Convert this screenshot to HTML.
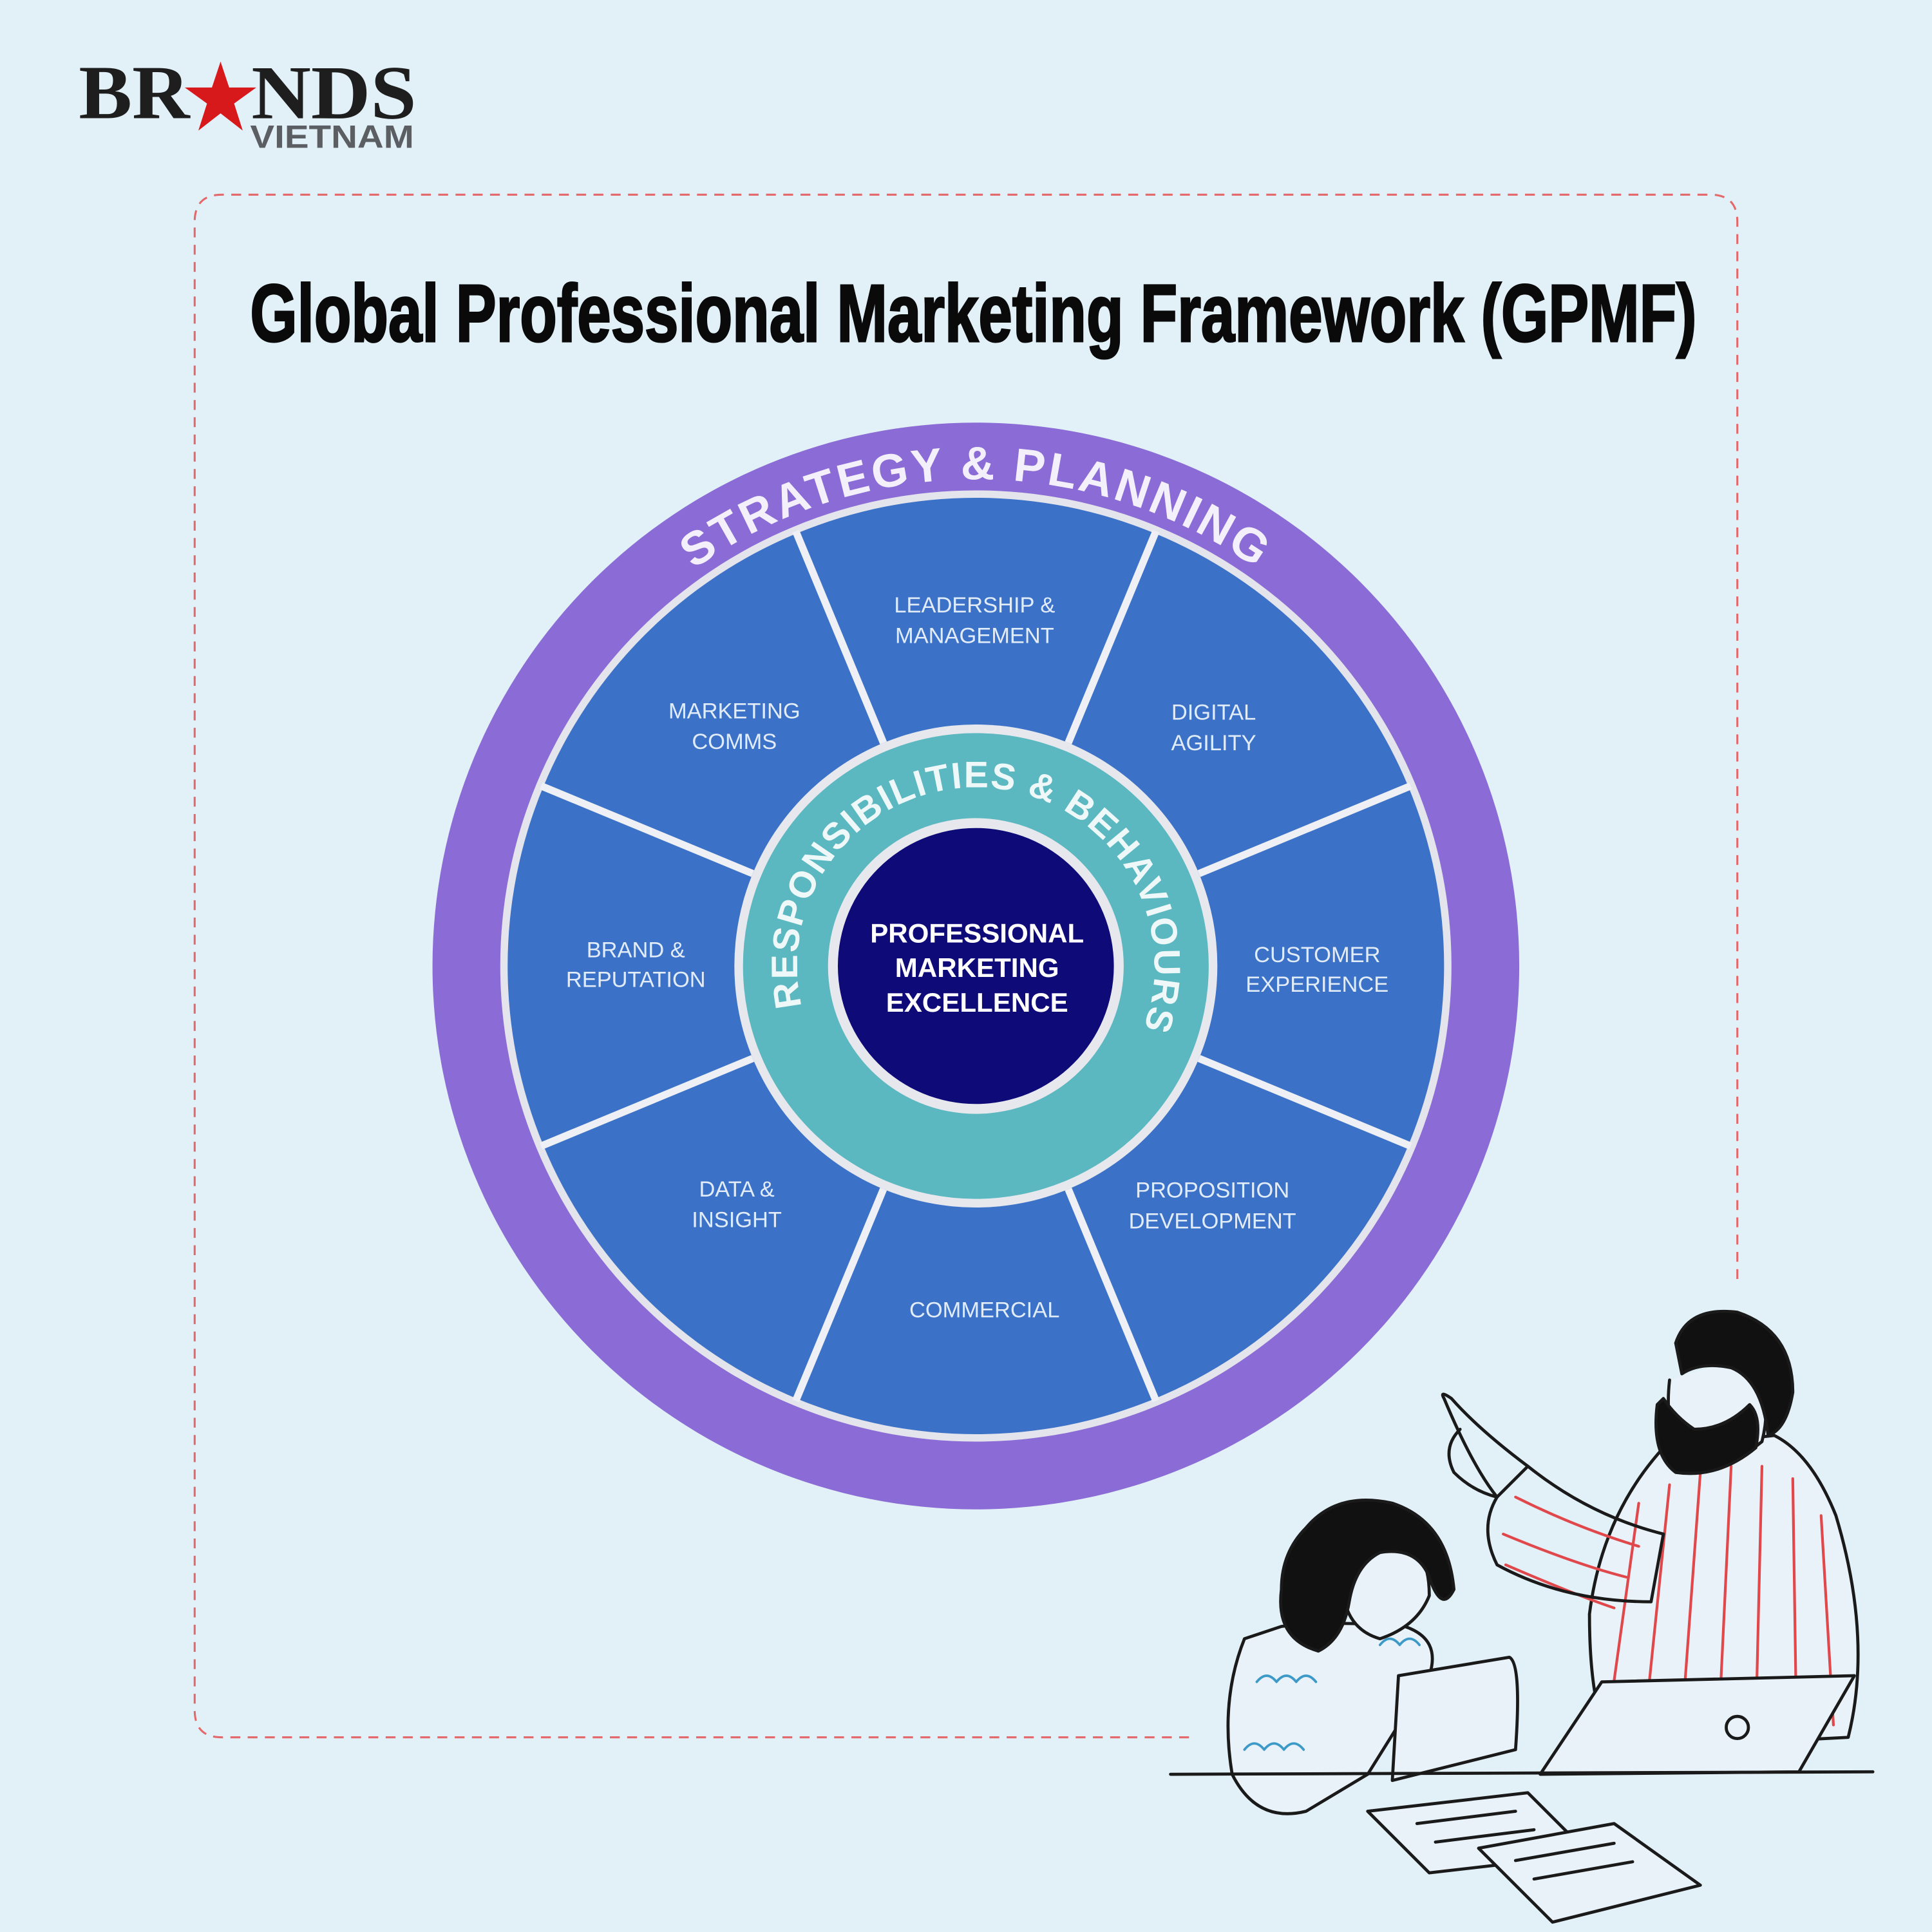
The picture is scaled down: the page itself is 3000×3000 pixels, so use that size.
<!DOCTYPE html>
<html><head><meta charset="utf-8"><style>
html,body{margin:0;padding:0;background:#e2f0f7;}
svg{display:block;}
</style></head><body>
<svg width="3000" height="3000" viewBox="0 0 1568 1568" xmlns="http://www.w3.org/2000/svg">
<rect width="1568" height="1568" fill="#e2f0f7"/>
<!-- logo -->
<text x="64" y="96" font-family="Liberation Serif, serif" font-weight="bold" font-size="62" fill="#1e1e1e" textLength="90" lengthAdjust="spacingAndGlyphs">BR</text>
<polygon points="179,50 186,71 208,71 190,84 197,106 179,92 161,106 168,84 150,71 172,71" fill="#d7191c"/>
<text x="204" y="96" font-family="Liberation Serif, serif" font-weight="bold" font-size="62" fill="#1e1e1e" textLength="134" lengthAdjust="spacingAndGlyphs">NDS</text>
<text x="203" y="120" font-family="Liberation Sans, sans-serif" font-weight="bold" font-size="26" fill="#5b5e62" textLength="133" lengthAdjust="spacingAndGlyphs">VIETNAM</text>
<!-- dashed frame -->
<path d="M965,1410 L180,1410 Q158,1410 158,1388 L158,180 Q158,158 180,158 L1388,158 Q1410,158 1410,180 L1410,1042" fill="none" stroke="#e4676a" stroke-width="1.6" stroke-dasharray="8 6"/>
<!-- title -->
<text x="203" y="277" font-family="Liberation Sans, sans-serif" font-weight="bold" font-size="66" fill="#0a0a0a" stroke="#0a0a0a" stroke-width="1.6" textLength="1174" lengthAdjust="spacingAndGlyphs">Global Professional Marketing Framework (GPMF)</text>
<!-- wheel -->
<circle cx="792" cy="784" r="441" fill="#8b6cd6"/>
<circle cx="792" cy="784" r="386" fill="#e4e4ec"/>
<circle cx="792" cy="784" r="380" fill="#3b72c7"/>
<g stroke="#eef0f6" stroke-width="6">
<line x1="792" y1="588" x2="792" y2="402" transform="rotate(-22.5 792 784)"/>
<line x1="792" y1="588" x2="792" y2="402" transform="rotate(22.5 792 784)"/>
<line x1="792" y1="588" x2="792" y2="402" transform="rotate(67.5 792 784)"/>
<line x1="792" y1="588" x2="792" y2="402" transform="rotate(112.5 792 784)"/>
<line x1="792" y1="588" x2="792" y2="402" transform="rotate(157.5 792 784)"/>
<line x1="792" y1="588" x2="792" y2="402" transform="rotate(202.5 792 784)"/>
<line x1="792" y1="588" x2="792" y2="402" transform="rotate(247.5 792 784)"/>
<line x1="792" y1="588" x2="792" y2="402" transform="rotate(292.5 792 784)"/>
</g>
<circle cx="792" cy="784" r="196" fill="#e6e8ee"/>
<circle cx="792" cy="784" r="189" fill="#5bb7c0"/>
<circle cx="792" cy="784" r="120" fill="#e6e8ee"/>
<circle cx="792" cy="784" r="112" fill="#0e0a78"/>
<defs>
<path id="outer" d="M397,784 A395,395 0 0 1 1187,784"/>
<path id="inner" d="M792,929 A145,145 0 1 1 792,639 A145,145 0 1 1 792,929"/>
</defs>
<text font-family="Liberation Sans, sans-serif" font-weight="bold" font-size="38" fill="#f4f0fb" letter-spacing="2"><textPath href="#outer" startOffset="50%" text-anchor="middle">STRATEGY &amp; PLANNING</textPath></text>
<text font-family="Liberation Sans, sans-serif" font-weight="bold" font-size="30" fill="#eef8f8"><textPath href="#inner" startOffset="51%" text-anchor="middle" textLength="540">RESPONSIBILITIES &amp; BEHAVIOURS</textPath></text>
<g font-family="Liberation Sans, sans-serif" font-weight="bold" font-size="22" fill="#ffffff" text-anchor="middle">
<text x="793" y="765">PROFESSIONAL</text>
<text x="793" y="793">MARKETING</text>
<text x="793" y="821">EXCELLENCE</text>
</g>
<g font-family="Liberation Sans, sans-serif" font-size="18" fill="#e2ecf8" text-anchor="middle">
<text x="791" y="497">LEADERSHIP &amp;</text><text x="791" y="522">MANAGEMENT</text>
<text x="985" y="584">DIGITAL</text><text x="985" y="609">AGILITY</text>
<text x="1069" y="781">CUSTOMER</text><text x="1069" y="805">EXPERIENCE</text>
<text x="984" y="972">PROPOSITION</text><text x="984" y="997">DEVELOPMENT</text>
<text x="799" y="1069">COMMERCIAL</text>
<text x="598" y="971">DATA &amp;</text><text x="598" y="996">INSIGHT</text>
<text x="516" y="777">BRAND &amp;</text><text x="516" y="801">REPUTATION</text>
<text x="596" y="583">MARKETING</text><text x="596" y="608">COMMS</text>
</g>
<!-- illustration -->
<g stroke="#1a1a1a" stroke-width="2.5" fill="none" stroke-linecap="round" stroke-linejoin="round">
<path d="M1350,1175 Q1300,1230 1290,1310 Q1290,1390 1310,1420 L1500,1410 Q1520,1330 1490,1230 Q1470,1180 1440,1165 Z" fill="#e8f2f8"/>
<g stroke="#e0484c" stroke-width="2.2">
<path d="M1330,1220 L1305,1400"/><path d="M1355,1205 L1335,1400"/><path d="M1380,1195 L1365,1400"/><path d="M1405,1190 L1395,1400"/><path d="M1430,1190 L1425,1400"/><path d="M1455,1200 L1458,1400"/><path d="M1478,1230 L1488,1400"/>
<path d="M1230,1215 Q1280,1240 1330,1255"/><path d="M1220,1245 Q1280,1270 1320,1280"/><path d="M1222,1270 Q1280,1295 1310,1305"/>
</g>
<path d="M1240,1190 Q1290,1230 1350,1245 L1340,1300 Q1270,1300 1215,1270 Q1200,1240 1215,1215 Z"/>
<path d="M1215,1215 Q1195,1190 1172,1135 Q1168,1128 1178,1135 Q1200,1160 1240,1190"/>
<path d="M1185,1160 Q1170,1175 1180,1195 Q1195,1210 1215,1215"/>
<path d="M1355,1120 Q1350,1165 1370,1185 Q1400,1195 1430,1170 Q1440,1130 1420,1100" fill="#e8f2f8"/>
<path d="M1360,1090 Q1370,1060 1410,1065 Q1455,1080 1455,1130 Q1450,1160 1435,1165 Q1430,1120 1405,1110 Q1380,1105 1365,1115 Z" fill="#111"/>
<path d="M1345,1140 Q1340,1180 1360,1195 Q1395,1200 1425,1175 Q1430,1150 1420,1140 Q1400,1160 1375,1160 Q1360,1150 1350,1135 Z" fill="#111"/>
<path d="M1010,1330 Q990,1380 1000,1440 Q1020,1480 1060,1470 L1110,1440 L1160,1360 Q1170,1330 1140,1320 Q1080,1315 1040,1320 Z" fill="#e8f2f8"/>
<g stroke="#3d9ac8" stroke-width="2"><path d="M1020,1365 q8,-10 16,0 q8,-10 16,0 q8,-10 16,0"/><path d="M1010,1420 q8,-10 16,0 q8,-10 16,0 q8,-10 16,0"/><path d="M1120,1335 q8,-10 16,0 q8,-10 16,0"/></g>
<path d="M1090,1270 Q1085,1320 1120,1330 Q1150,1320 1160,1295 Q1160,1260 1140,1250 Z" fill="#e8f2f8"/>
<path d="M1060,1240 Q1085,1210 1130,1220 Q1175,1235 1180,1290 Q1170,1310 1160,1280 Q1150,1255 1120,1260 Q1100,1270 1095,1300 Q1090,1330 1070,1340 Q1035,1330 1040,1290 Q1040,1260 1060,1240 Z" fill="#111"/>
<path d="M1135,1360 L1225,1345 Q1235,1350 1230,1420 L1130,1445 Z" fill="#e8f2f8"/>
<path d="M1250,1440 L1300,1365 L1505,1360 L1460,1438 Z" fill="#e8f2f8"/>
<circle cx="1410" cy="1402" r="9"/>
<path d="M950,1440 L1520,1438"/>
<path d="M1110,1470 L1240,1455 L1290,1505 L1160,1520 Z" fill="#e8f2f8"/>
<path d="M1200,1500 L1310,1480 L1380,1530 L1260,1560 Z" fill="#e8f2f8"/>
<path d="M1150,1480 l80,-10 M1165,1495 l80,-10 M1230,1510 l80,-14 M1245,1525 l80,-14"/>
</g>
</svg>
</body></html>
